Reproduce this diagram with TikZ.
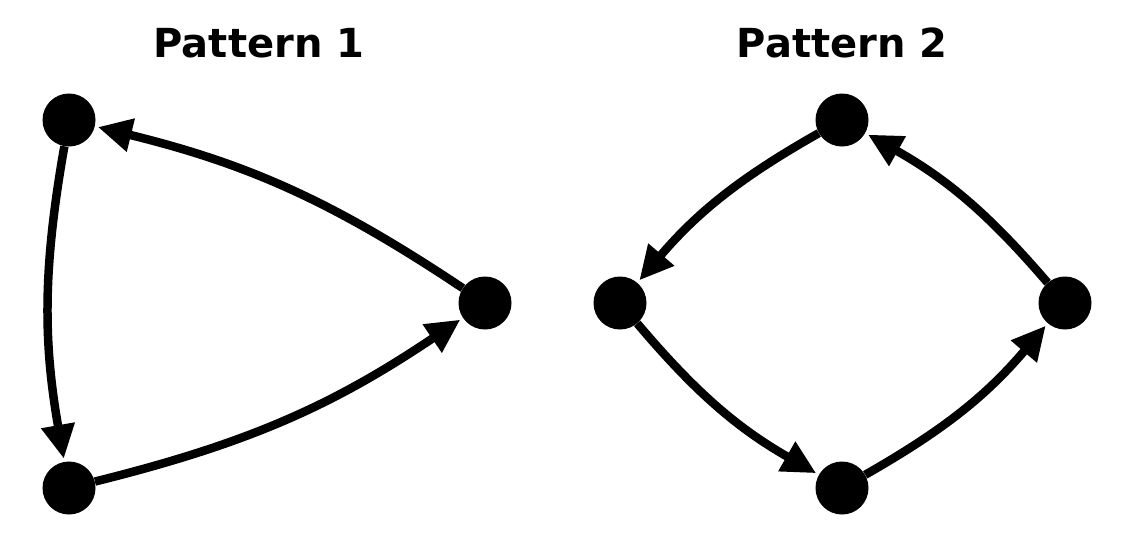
\documentclass[tikz,border=0pt]{standalone}
\usepackage{fontspec}
\setmainfont{DejaVu Sans}
\usetikzlibrary{arrows.meta}
\pgfdeclarelayer{background}
\pgfsetlayers{background,main}
\begin{document}
\begin{tikzpicture}[x=1pt,y=-1pt,
  dot/.style={circle,fill=black,minimum size=53pt,inner sep=0pt},
  conn/.style={line width=8.5pt,-{Triangle[length=34pt,width=32pt]},shorten >=3pt},
  title/.style={font=\fontsize{40}{48}\selectfont\bfseries,anchor=base}]
\useasboundingbox (0,0) rectangle (1132,558);
\node[title] (t1) at (259,57) {Pattern 1};
\node[title] (t2) at (842,57) {Pattern 2};
\node[dot] (a1) at (69,120) {};
\node[dot] (a2) at (69,488) {};
\node[dot] (a3) at (485,303) {};
\node[dot] (b1) at (842,120) {};
\node[dot] (b2) at (620,303) {};
\node[dot] (b3) at (842,488) {};
\node[dot] (b4) at (1065,303) {};
\begin{pgfonlayer}{background}
\draw[conn] (a3) to[bend right=10] (a1);
\draw[conn] (a1) to[bend right=10] (a2);
\draw[conn] (a2) to[bend right=10] (a3);
\draw[conn] (b1) to[bend right=10] (b2);
\draw[conn] (b2) to[bend right=10] (b3);
\draw[conn] (b3) to[bend right=10] (b4);
\draw[conn] (b4) to[bend right=10] (b1);
\end{pgfonlayer}
\end{tikzpicture}
\end{document}
